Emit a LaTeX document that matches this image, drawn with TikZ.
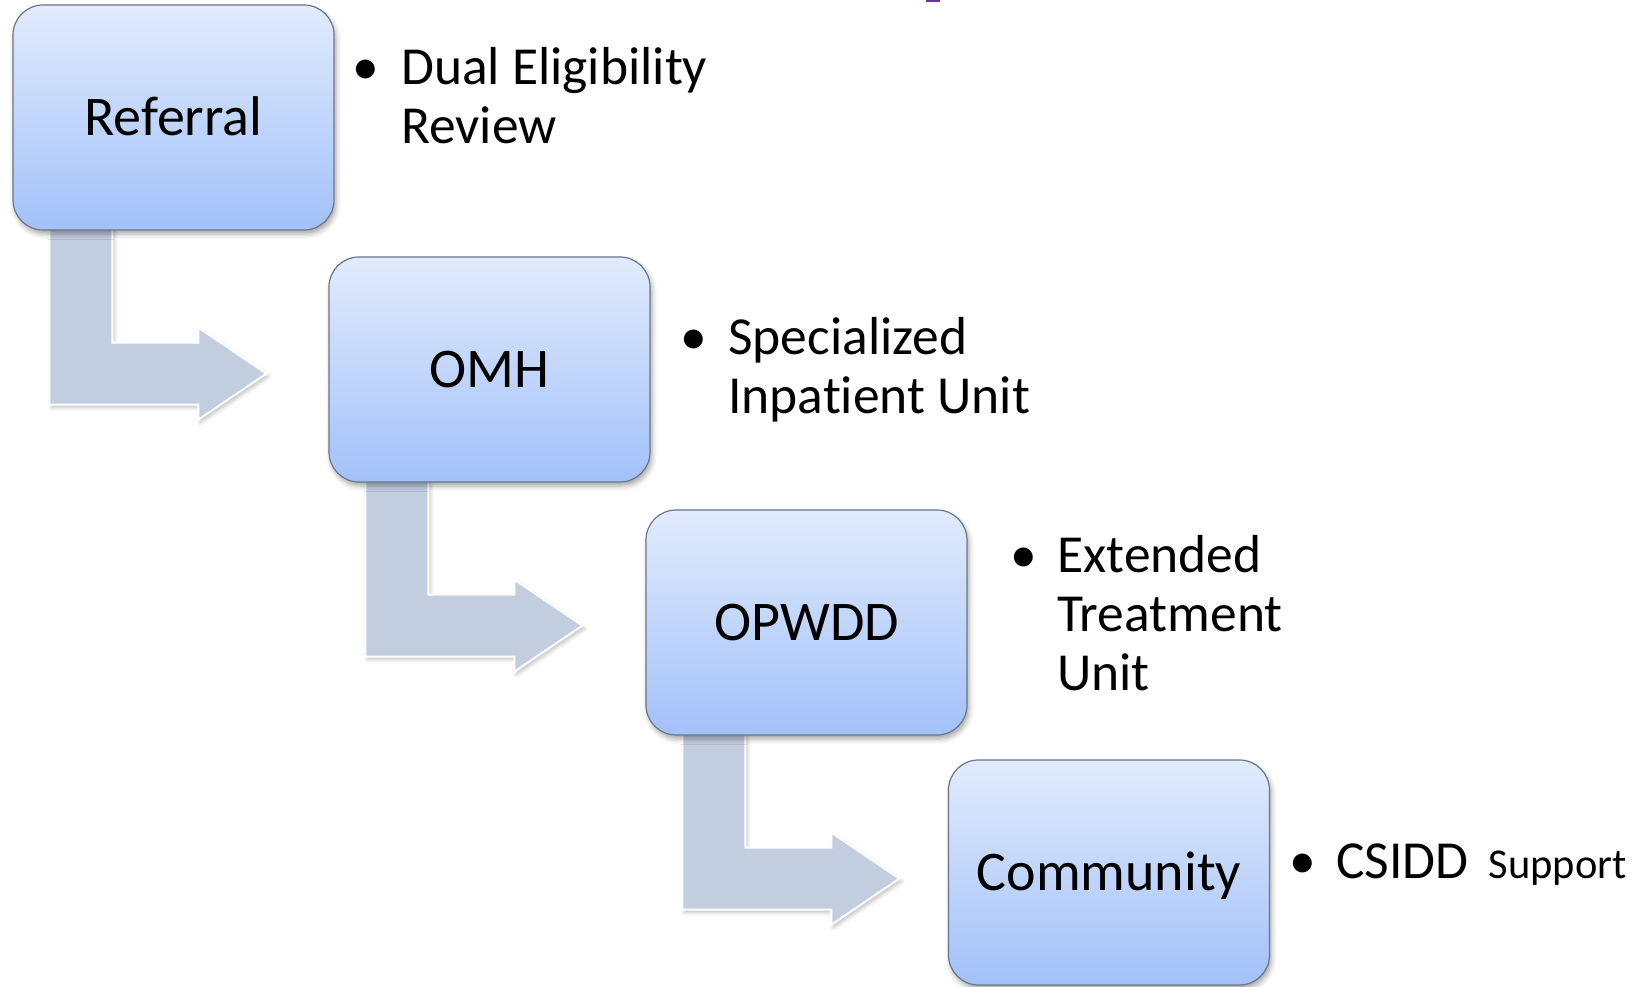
\documentclass[tikz,border=0pt]{standalone}
\usepackage{fontspec}
\setmainfont{Carlito}[Ligatures=NoCommon]
\usetikzlibrary{calc,shadows.blur}
\pgfdeclarelayer{background}
\pgfsetlayers{background,main}

\definecolor{boxtop}{HTML}{E1EBFD}
\definecolor{boxbot}{HTML}{A2C1F9}
\definecolor{boxline}{HTML}{6B7686}
\definecolor{arrowfill}{HTML}{C3CDE0}
\definecolor{markpurple}{HTML}{7030A0}

\tikzset{
  bigfont/.style={font=\fontsize{53.5}{59}\selectfont},
  labelfont/.style={font=\fontsize{56}{62}\selectfont},
  stepbox/.style={labelfont, draw=boxline, line width=1.2pt, rounded corners=30pt,
    top color=boxtop, bottom color=boxbot,
    minimum width=321pt, minimum height=225pt, inner sep=0pt,
    text height=36pt, text depth=0pt,
    blur shadow={shadow xshift=2pt, shadow yshift=-4pt,
      shadow blur radius=5pt, shadow opacity=35}},
  bulletmark/.style={bigfont, anchor=base, inner sep=0pt},
  desc/.style={bigfont, anchor=base west, inner sep=0pt},
  flowarrow/.style={fill=arrowfill, draw=white, line width=2pt, line join=miter,
    blur shadow={shadow xshift=2pt, shadow yshift=-3pt,
      shadow blur radius=4pt, shadow opacity=25}}
}

% bent block arrow hanging from the bottom of a step box
\newcommand\bentflow[1]{%
  \begin{scope}[shift={(#1.south west)}]
    \path[flowarrow] (37,-12) -- (100,-12) -- (100,112) -- (186,112) -- (186,97)
      -- (254,143) -- (186,189) -- (186,174) -- (37,174) -- cycle;
  \end{scope}}

\begin{document}
\begin{tikzpicture}[x=1pt,y=-1pt]
  \useasboundingbox (0,0) rectangle (1647,987);

  % steps
  \node[stepbox] (ref) at (173.5,117.5) {Referral};
  \node[stepbox] (omh) at (489.5,369.5) {OMH};
  \node[stepbox] (opw) at (806.5,622.5) {OPWDD};
  \node[stepbox] (com) at (1109,872.5) {Community};

  % connectors between the steps
  \begin{pgfonlayer}{background}
    \bentflow{ref}
    \bentflow{omh}
    \bentflow{opw}
  \end{pgfonlayer}

  % bullet notes
  \node[bulletmark] (b1) at (366,85) {•};
  \node[desc] (t1a) at (401,85) {Dual Eligibility};
  \node[desc] (t1b) at (401,144) {Review};

  \node[bulletmark] (b2) at (693.5,354) {•};
  \node[desc] (t2a) at (728,354) {Specialized};
  \node[desc] (t2b) at (728,413) {Inpatient Unit};

  \node[bulletmark] (b3) at (1023.5,572) {•};
  \node[desc] (t3a) at (1057,572) {Extended};
  \node[desc] (t3b) at (1057,631) {Treatment};
  \node[desc] (t3c) at (1057,690) {Unit};

  \node[bulletmark] (b4) at (1302.5,878) {•};
  \node[desc] (t4) at (1336,878) {CSIDD\hspace{20pt}{\fontsize{42.5}{48}\selectfont Support}};

  % small mark at the top edge
  \fill[markpurple] (926,0) rectangle (940,2.5);
\end{tikzpicture}
\end{document}
